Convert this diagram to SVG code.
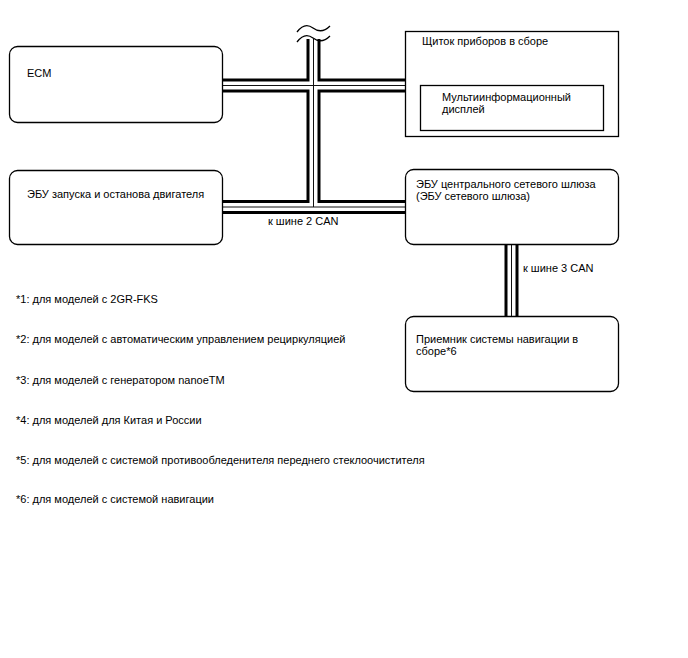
<svg xmlns="http://www.w3.org/2000/svg" width="688" height="658" viewBox="0 0 688 658">
<style>
.box{fill:#fff;stroke:#000;stroke-width:1.3}
.t{font-family:"Liberation Sans",Arial,sans-serif;font-size:11px;fill:#000}
.b1{fill:none;stroke:#000;stroke-width:14}
.b2{fill:none;stroke:#fff;stroke-width:8}
.b3{fill:none;stroke:#111;stroke-width:1}
.w{fill:none;stroke:#000;stroke-width:1.3}
</style>
<rect width="688" height="658" fill="#fff"/>
<g id="connectors">
<g class="b1">
<path d="M222,85.5 H405"/>
<path d="M313.5,39 V207"/>
<path d="M222,207 H405"/>
<path d="M511.5,244 V316"/>
</g>
<g class="b2">
<path d="M222,85.5 H405"/>
<path d="M313.5,39 V207"/>
<path d="M222,207 H405"/>
<path d="M511.5,244 V316"/>
</g>
<g class="b3">
<path d="M222,85.5 H405"/>
<path d="M313.5,39 V207"/>
<path d="M222,207 H405"/>
<path d="M511.5,244 V316"/>
</g>
<path class="w" d="M297,32 C303,24 309,25 313,28 S323,33 330,26"/>
<path class="w" d="M297,42 C303,34 309,35 313,38 S323,43 330,36"/>
<text class="t" x="268" y="225">к шине 2 CAN</text>
<text class="t" x="523" y="272">к шине 3 CAN</text>
</g>
<g id="ecm">
<rect class="box" x="9.5" y="46.5" width="213" height="76" rx="8"/>
<text class="t" x="27" y="77">ECM</text>
</g>
<g id="cluster">
<rect class="box" x="405.5" y="31.5" width="213" height="105"/>
<text class="t" x="422" y="45">Щиток приборов в сборе</text>
<g id="mid">
<rect class="box" x="420.5" y="85.5" width="183" height="45"/>
<text class="t" x="442" y="101">Мультиинформационный</text>
<text class="t" x="442" y="113">дисплей</text>
</g>
</g>
<g id="engine">
<rect class="box" x="9.5" y="170.5" width="213" height="74" rx="8"/>
<text class="t" x="27" y="198">ЭБУ запуска и останова двигателя</text>
</g>
<g id="gateway">
<rect class="box" x="405.5" y="169.5" width="213" height="75" rx="8"/>
<text class="t" x="416" y="188">ЭБУ центрального сетевого шлюза</text>
<text class="t" x="416" y="200">(ЭБУ сетевого шлюза)</text>
</g>
<g id="nav">
<rect class="box" x="405.5" y="316.5" width="213" height="75" rx="8"/>
<text class="t" x="416" y="343">Приемник системы навигации в</text>
<text class="t" x="416" y="355">сборе*6</text>
</g>
<g id="notes">
<text class="t" x="16" y="303">*1: для моделей с 2GR-FKS</text>
<text class="t" x="16" y="343">*2: для моделей с автоматическим управлением рециркуляцией</text>
<text class="t" x="16" y="384">*3: для моделей с генератором nanoeTM</text>
<text class="t" x="16" y="424">*4: для моделей для Китая и России</text>
<text class="t" x="16" y="464">*5: для моделей с системой противообледенителя переднего стеклоочистителя</text>
<text class="t" x="16" y="503">*6: для моделей с системой навигации</text>
</g>
</svg>
